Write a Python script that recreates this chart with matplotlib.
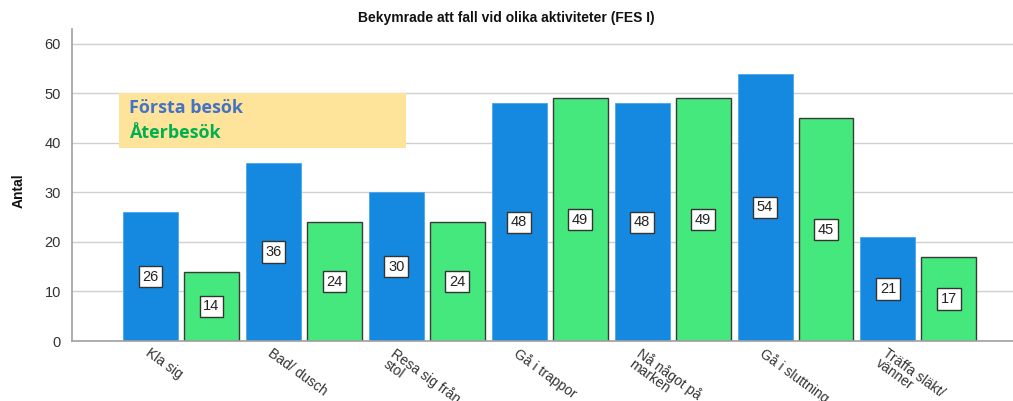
import numpy as np
import matplotlib
matplotlib.use("Agg")
import matplotlib.pyplot as plt
import matplotlib.transforms as mtrans

# chart data
categories = ["Kla sig", "Bad/ dusch", "Resa sig från\nstol", "Gå i trappor",
              "Nå något på\nmarken", "Gå i sluttning", "Träffa släkt/\nvänner"]
forsta = [26, 36, 30, 48, 48, 54, 21]
ater = [14, 24, 24, 49, 49, 45, 17]

plt.rcParams['font.family'] = ['Liberation Sans', 'DejaVu Sans']

fig = plt.figure(figsize=(10.13, 4.01), dpi=100)
ax = fig.add_axes([0.0711, 0.1496, 0.929, 0.778])

x = np.arange(len(categories))
w = 0.447
off = 0.248
b1 = ax.bar(x - off, forsta, w, color="#1589E0", edgecolor="#4aa6ea", linewidth=0.6, zorder=2)
b2 = ax.bar(x + off, ater, w, color="#45E87C", edgecolor="#3a3a3a", linewidth=1.0, zorder=2)

# value boxes in middle of each bar
for bars, vals in ((b1, forsta), (b2, ater)):
    for r, v in zip(bars, vals):
        ax.text(r.get_x() + r.get_width() / 2, v / 2, str(v), ha="center", va="center",
                fontsize=10.5, color="#222222", zorder=3,
                bbox=dict(boxstyle="square,pad=0.25", fc="white", ec="#333333", lw=1))

ax.set_xlim(-0.886, 6.77)
ax.set_ylim(0, 63)
ax.set_yticks(range(0, 61, 10))
ax.yaxis.grid(True, color="#d0d0d0", linewidth=1, zorder=0)
ax.set_axisbelow(True)
ax.tick_params(axis="y", length=0, labelsize=10.5, labelcolor="#333333", pad=8)
ax.tick_params(axis="x", length=0)
for s in ("top", "right"):
    ax.spines[s].set_visible(False)
ax.spines["left"].set_color("#a0a0a0")
ax.spines["bottom"].set_color("#a0a0a0")
ax.spines["left"].set_linewidth(1.2)
ax.spines["bottom"].set_linewidth(1.2)

ax.set_xticks(x)
ax.set_xticklabels(categories, rotation=-36, ha="left", rotation_mode="anchor",
                   fontsize=10, color="#333333", linespacing=0.85)
shift = mtrans.ScaledTranslation(-30 / 100, 0, fig.dpi_scale_trans)
for lbl in ax.get_xticklabels():
    lbl.set_transform(lbl.get_transform() + shift)

fig.text(0.5, 0.955, "Bekymrade att fall vid olika aktiviteter (FES I)", ha="center",
         va="center", fontsize=10, fontweight="bold", color="#111111")
fig.text(0.018, 0.525, "Antal", rotation=90, ha="center", va="center",
         fontsize=10, fontweight="bold", fontstretch="condensed", color="#111111")

# legend-like yellow box
lx0, lx1 = -0.504, 1.83
ly0, ly1 = 39, 50.1
ax.add_patch(plt.Rectangle((lx0, ly0), lx1 - lx0, ly1 - ly0, facecolor="#FEE39A",
                           edgecolor="none", zorder=4))
ax.text(lx0 + 0.08, 47.0, "Första besök", color="#4472C4", fontsize=13, fontweight="bold",
        va="center", ha="left", zorder=5, family=["Open Sans", "DejaVu Sans"])
ax.text(lx0 + 0.08, 42.0, "Återbesök", color="#00B050", fontsize=13, fontweight="bold",
        va="center", ha="left", zorder=5, family=["Open Sans", "DejaVu Sans"])

fig.savefig("out.png", dpi=100)
